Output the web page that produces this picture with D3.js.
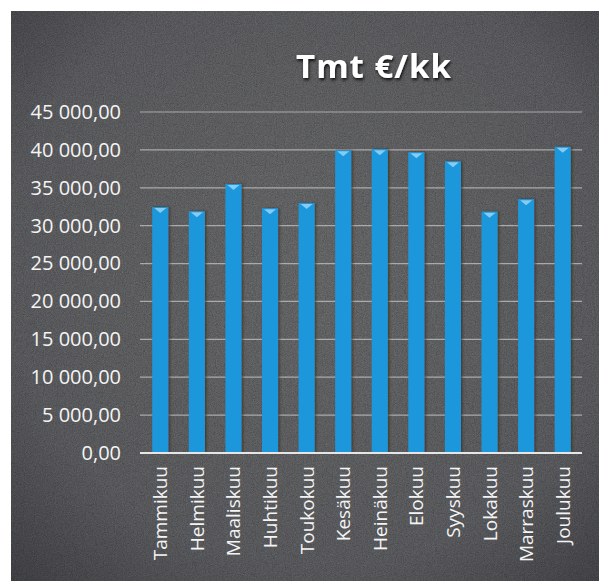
<!DOCTYPE html>
<html>
<head>
<meta charset="utf-8">
<script src="https://cdn.jsdelivr.net/npm/d3@7"></script>
<style>
  html, body { margin: 0; padding: 0; background: #fff; }
  svg { display: block; }
</style>
</head>
<body>
<div id="chart"></div>
<script>
// -- data ----------------------------------------------------------------
const months = ['Tammikuu', 'Helmikuu', 'Maaliskuu', 'Huhtikuu', 'Toukokuu', 'Kesäkuu',
                'Heinäkuu', 'Elokuu', 'Syyskuu', 'Lokakuu', 'Marraskuu', 'Joulukuu'];
const values = [32450, 31900, 35500, 32300, 33000, 39950,
                40100, 39700, 38500, 31850, 33500, 40400];
const yTicks = [0, 5000, 10000, 15000, 20000, 25000, 30000, 35000, 40000, 45000];
const title  = 'Tmt €/kk';

const W = 599, H = 581;
const fi = d3.formatLocale({ decimal: ',', thousands: '\u00a0', grouping: [3], currency: ['', ' €'] });
const fmt = fi.format(',.2f');
const FONT = '"Open Sans", "Noto Sans", sans-serif';

const svg = d3.select('#chart').append('svg')
  .attr('width', W).attr('height', H);

const defs = svg.append('defs');

// vignette for the dark board
const rg = defs.append('radialGradient').attr('id', 'bg')
  .attr('cx', '52%').attr('cy', '45%').attr('r', '75%');
rg.append('stop').attr('offset', '0%').attr('stop-color', '#626364');
rg.append('stop').attr('offset', '70%').attr('stop-color', '#56575a');
rg.append('stop').attr('offset', '100%').attr('stop-color', '#3e3f43');

// grainy texture
const grain = defs.append('filter').attr('id', 'grain')
  .attr('x', 0).attr('y', 0).attr('width', '100%').attr('height', '100%');
grain.append('feTurbulence').attr('type', 'fractalNoise')
  .attr('baseFrequency', 1.1).attr('numOctaves', 2).attr('seed', 3).attr('result', 'n');
grain.append('feColorMatrix').attr('in', 'n').attr('type', 'saturate').attr('values', 0).attr('result', 'ng');
grain.append('feComponentTransfer').attr('in', 'ng').attr('result', 'g')
  .append('feFuncA').attr('type', 'linear').attr('slope', 0).attr('intercept', 0.6);
grain.append('feComposite').attr('in', 'g').attr('in2', 'SourceGraphic').attr('operator', 'in').attr('result', 'gc');
grain.append('feBlend').attr('in', 'gc').attr('in2', 'SourceGraphic').attr('mode', 'overlay');

const shadow = defs.append('filter').attr('id', 'tshadow')
  .attr('x', '-10%').attr('y', '-20%').attr('width', '130%').attr('height', '150%');
shadow.append('feDropShadow').attr('dx', 1).attr('dy', 2).attr('stdDeviation', 1.5)
  .attr('flood-color', '#000').attr('flood-opacity', 0.85);

const barShadow = defs.append('filter').attr('id', 'bshadow')
  .attr('x', '-30%').attr('y', '-5%').attr('width', '170%').attr('height', '110%');
barShadow.append('feDropShadow').attr('dx', 1.5).attr('dy', 0).attr('stdDeviation', 1.2)
  .attr('flood-color', '#3a2618').attr('flood-opacity', 0.7);

// board
svg.append('rect')
  .attr('x', 11).attr('y', 11).attr('width', W - 11).attr('height', H - 11)
  .attr('fill', 'url(#bg)').attr('filter', 'url(#grain)');

// -- scales --------------------------------------------------------------
const margin = { left: 142, right: 18, top: 112, bottom: 128 };
const x = d3.scaleBand().domain(months)
  .range([margin.left, W - margin.right]).paddingInner(0.56).paddingOuter(0.28);
const y = d3.scaleLinear().domain([0, 45000]).range([H - margin.bottom, margin.top]);

// gridlines
svg.append('g').selectAll('line').data(yTicks.filter(d => d > 0)).join('line')
  .attr('x1', 140).attr('x2', 582)
  .attr('y1', d => y(d)).attr('y2', d => y(d))
  .attr('stroke', '#b8b8b8').attr('stroke-width', 1.2).attr('opacity', 0.85);

// y axis labels
const yAxis = svg.append('g').attr('transform', 'translate(121,0)')
  .call(d3.axisLeft(y).tickValues(yTicks).tickFormat(fmt).tickSize(0).tickPadding(0));
yAxis.select('.domain').remove();
yAxis.selectAll('text')
  .attr('fill', '#f4f4f4')
  .style('font-family', FONT)
  .style('font-size', '20px');

// bars
const bars = svg.append('g').selectAll('g').data(months).join('g');
bars.append('rect')
  .attr('x', d => x(d)).attr('width', x.bandwidth())
  .attr('y', (d, i) => y(values[i]))
  .attr('height', (d, i) => y(0) - y(values[i]))
  .attr('fill', '#1f97dc').attr('filter', 'url(#bshadow)');
// highlight chevron at bar top
bars.append('path')
  .attr('d', (d, i) => {
    const x0 = x(d), bw = x.bandwidth(), t = y(values[i]);
    return `M${x0 + 2},${t + 1}L${x0 + bw - 2},${t + 1}L${x0 + bw / 2},${t + 6}Z`;
  })
  .attr('fill', '#8fd2f5').attr('opacity', 0.9);

// x axis line
svg.append('line')
  .attr('x1', 140).attr('x2', 582)
  .attr('y1', y(0)).attr('y2', y(0))
  .attr('stroke', '#e6e6e6').attr('stroke-width', 2);

// x labels (rotated)
svg.append('g').selectAll('text').data(months).join('text')
  .attr('transform', d => `translate(${x(d) + x.bandwidth() / 2 + 7},${y(0) + 13}) rotate(-90)`)
  .attr('text-anchor', 'end')
  .attr('fill', '#f4f4f4')
  .style('font-family', FONT)
  .style('font-size', '19px')
  .text(d => d);

// title
svg.append('text')
  .attr('x', 374).attr('y', 78)
  .attr('text-anchor', 'middle')
  .attr('fill', '#ffffff')
  .attr('filter', 'url(#tshadow)')
  .style('font-family', FONT)
  .style('font-weight', 'bold')
  .style('font-size', '33px')
  .style('letter-spacing', '1px')
  .text(title);
</script>
</body>
</html>
